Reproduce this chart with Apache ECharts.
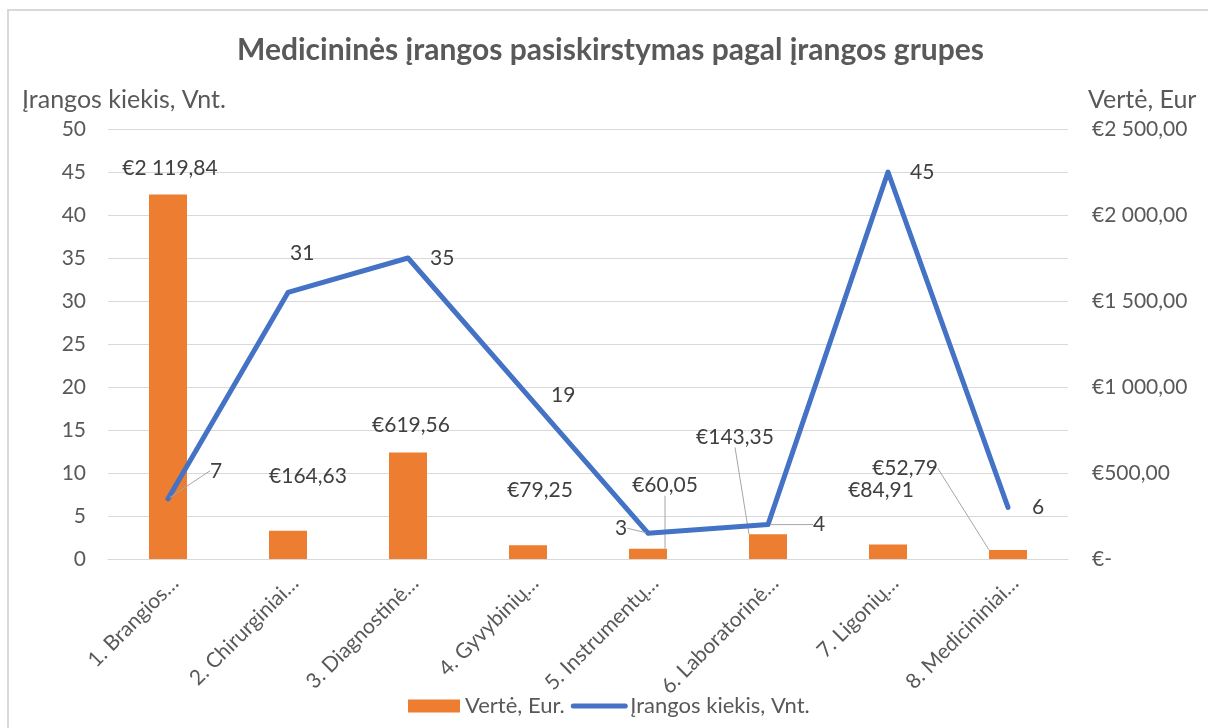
<!DOCTYPE html>
<html>
<head>
<meta charset="utf-8">
<script src="https://cdn.jsdelivr.net/npm/echarts@6/dist/echarts.min.js"></script>
<style>
  html, body { margin: 0; padding: 0; background: #fff; }
  #chart { width: 1208px; height: 728px; }
</style>
</head>
<body>
<div id="chart"></div>
<script>
// Equipment groups (category axis)
const categories = [
  '1. Brangios…',
  '2. Chirurginiai…',
  '3. Diagnostinė…',
  '4. Gyvybinių…',
  '5. Instrumentų…',
  '6. Laboratorinė…',
  '7. Ligonių…',
  '8. Medicininiai…'
];
// Value of equipment, EUR (right axis, bars)
const valueEur = [2119.84, 164.63, 619.56, 79.25, 60.05, 143.35, 84.91, 52.79];
// Number of equipment units (left axis, line)
const quantity = [7, 31, 35, 19, 3, 4, 45, 6];

const seriesNames = ['Vertė, Eur.', 'Įrangos kiekis, Vnt.'];

// Label nudges [dx, dy] so labels do not collide with the line
const barLabelShift = [[2, -11], [20, -39], [3, -12], [12, -40], [17, -48], [-33, -82], [-7, -39], [-103, -66]];
const lineLabelShift = [[35, -28], [-5, -39], [15, 0], [16, 0], [-40, -5], [38, 0], [15, 0], [17, 0]];
// Labels that get a leader line back to their mark
const barLeaders = [4, 5, 7];
const lineLeaders = [0, 4, 5];

const FONT = 'Lato, "Open Sans", sans-serif';
const ORANGE = '#ED7D31';
const BLUE = '#4472C4';
const GRID = '#d9d9d9';
const TEXT = '#595959';

function formatEur(v) {
  if (v === 0) return '€-';
  const parts = v.toFixed(2).split('.');
  const intPart = parts[0].replace(/\B(?=(\d{3})+(?!\d))/g, ' ');
  return '€' + intPart + ',' + parts[1];
}

const leaderStyle = { color: '#a6a6a6', width: 1 };

const barData = valueEur.map((v, i) => ({
  value: v,
  labelLine: { show: barLeaders.includes(i), lineStyle: leaderStyle }
}));
const lineData = quantity.map((v, i) => ({
  value: v,
  labelLine: { show: lineLeaders.includes(i), lineStyle: leaderStyle }
}));

const chart = echarts.init(document.getElementById('chart'));

chart.setOption({
  backgroundColor: '#fff',
  animation: false,
  textStyle: { fontFamily: FONT },
  graphic: [{
    type: 'polyline',
    silent: true,
    shape: { points: [[8, 728], [8, 10], [1208, 10]] },
    style: { stroke: GRID, lineWidth: 2, fill: null }
  }],
  title: [
    {
      text: 'Medicininės įrangos pasiskirstymas pagal įrangos grupes',
      left: 232,
      top: 30,
      textStyle: { fontFamily: FONT, fontSize: 30, fontWeight: 'bold', color: TEXT }
    },
    {
      text: 'Įrangos kiekis, Vnt.',
      left: 17,
      top: 82,
      textStyle: { fontFamily: FONT, fontSize: 25, fontWeight: 'normal', color: TEXT }
    },
    {
      text: 'Vertė, Eur',
      left: 1083,
      top: 82,
      textStyle: { fontFamily: FONT, fontSize: 25, fontWeight: 'normal', color: TEXT }
    }
  ],
  legend: {
    left: 403,
    top: 690,
    itemWidth: 52,
    itemHeight: 13,
    itemGap: 6,
    textStyle: { fontFamily: FONT, fontSize: 22, color: TEXT },
    data: [
      { name: seriesNames[0], icon: 'rect' },
      { name: seriesNames[1], itemStyle: { opacity: 0 }, lineStyle: { width: 5, cap: 'round' } }
    ]
  },
  grid: { left: 108, right: 140, top: 129, bottom: 169 },
  xAxis: {
    type: 'category',
    data: categories,
    boundaryGap: true,
    axisTick: { show: false },
    axisLine: { show: true, lineStyle: { color: GRID, width: 1 } },
    axisLabel: {
      rotate: 45,
      margin: 28,
      padding: [0, -10, 0, 0],
      fontFamily: FONT,
      fontSize: 21,
      color: TEXT,
      interval: 0
    }
  },
  yAxis: [
    {
      type: 'value',
      min: 0,
      max: 50,
      interval: 5,
      axisLine: { show: false },
      axisTick: { show: false },
      splitLine: { show: true, lineStyle: { color: GRID, width: 1 } },
      axisLabel: { margin: 22, fontFamily: FONT, fontSize: 21, color: TEXT }
    },
    {
      type: 'value',
      min: 0,
      max: 2500,
      interval: 500,
      position: 'right',
      axisLine: { show: false },
      axisTick: { show: false },
      splitLine: { show: false },
      axisLabel: {
        margin: 24,
        fontFamily: FONT,
        fontSize: 21,
        color: TEXT,
        formatter: formatEur
      }
    }
  ],
  series: [
    {
      name: seriesNames[0],
      type: 'bar',
      yAxisIndex: 1,
      data: barData,
      barWidth: 38,
      itemStyle: { color: ORANGE },
      label: {
        show: true,
        position: 'top',
        distance: 5,
        fontFamily: FONT,
        fontSize: 21,
        color: '#404040',
        formatter: p => formatEur(p.value)
      },
      labelLayout: p => {
        const d = barLabelShift[p.dataIndex];
        return { dx: d[0], dy: d[1] };
      },
      z: 2
    },
    {
      name: seriesNames[1],
      type: 'line',
      yAxisIndex: 0,
      data: lineData,
      symbol: 'circle',
      symbolSize: 4,
      itemStyle: { color: BLUE },
      lineStyle: { color: BLUE, width: 5, cap: 'round', join: 'round' },
      label: {
        show: true,
        position: 'right',
        distance: 5,
        fontFamily: FONT,
        fontSize: 21,
        color: '#404040'
      },
      labelLayout: p => {
        const d = lineLabelShift[p.dataIndex];
        return { dx: d[0], dy: d[1] };
      },
      z: 3
    }
  ]
});
</script>
</body>
</html>
